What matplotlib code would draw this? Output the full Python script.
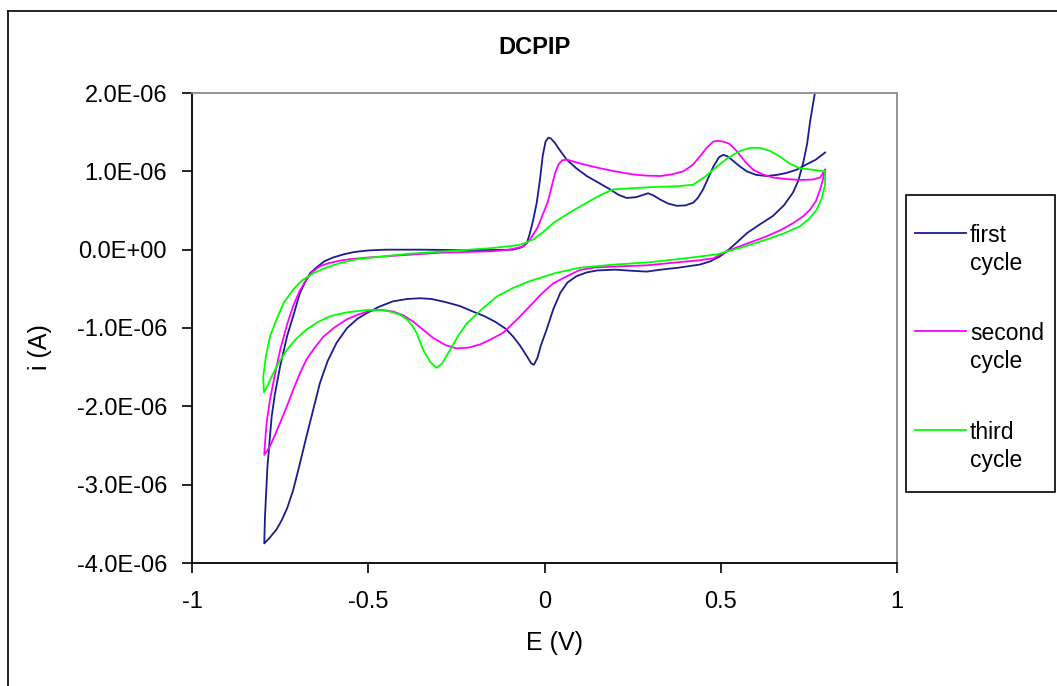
import matplotlib
matplotlib.use("Agg")
import matplotlib.pyplot as plt
from matplotlib.lines import Line2D
from matplotlib.patches import Rectangle
from matplotlib.ticker import FuncFormatter

plt.rcParams['font.family'] = ['Liberation Sans', 'DejaVu Sans']

# ---- data (E in V, i in 1e-6 A) ----
first_E = [0.796, 0.77, 0.744, 0.715, 0.687, 0.66, 0.63, 0.6, 0.574, 0.555, 0.536, 0.52, 0.507,
           0.495, 0.479, 0.465, 0.45, 0.435, 0.422, 0.40, 0.375, 0.35, 0.328, 0.31, 0.294, 0.28,
           0.26, 0.233, 0.21, 0.186, 0.155, 0.12, 0.09, 0.063, 0.045, 0.03, 0.018, 0.011, 0.003,
           -0.005, -0.013, -0.022, -0.032, -0.042, -0.05, -0.065, -0.089, -0.15, -0.25, -0.35,
           -0.45, -0.5, -0.54, -0.57, -0.6, -0.625, -0.645, -0.665, -0.68, -0.695, -0.713, -0.73,
           -0.75, -0.765, -0.774, -0.786, -0.793, -0.795,
           -0.78, -0.76, -0.745, -0.73, -0.713, -0.695, -0.675, -0.655, -0.637, -0.615, -0.59,
           -0.56, -0.53, -0.504, -0.47, -0.43, -0.39, -0.353, -0.32, -0.28, -0.24, -0.203, -0.17,
           -0.14, -0.11, -0.089, -0.07, -0.05, -0.038, -0.03, -0.02, -0.01, 0.006, 0.025, 0.045,
           0.065, 0.09, 0.12, 0.15, 0.2, 0.25, 0.29, 0.33, 0.38, 0.441, 0.47, 0.498, 0.52, 0.545,
           0.574, 0.61, 0.648, 0.68, 0.705, 0.72, 0.734, 0.745, 0.753, 0.767, 0.78]
first_i = [1.24, 1.15, 1.09, 1.02, 0.98, 0.955, 0.94, 0.955, 1.0, 1.06, 1.13, 1.19, 1.21,
           1.18, 1.06, 0.92, 0.77, 0.66, 0.60, 0.565, 0.56, 0.59, 0.64, 0.69, 0.72, 0.70,
           0.67, 0.66, 0.70, 0.77, 0.85, 0.94, 1.04, 1.15, 1.26, 1.36, 1.42, 1.43, 1.38,
           1.20, 0.89, 0.60, 0.38, 0.20, 0.085, 0.03, 0.0, -0.005, -0.005, 0.0,
           0.0, -0.01, -0.03, -0.06, -0.10, -0.15, -0.22, -0.30, -0.42, -0.57, -0.85, -1.10,
           -1.49, -1.85, -2.13, -2.77, -3.41, -3.75,
           -3.68, -3.57, -3.45, -3.30, -3.07, -2.75, -2.38, -2.02, -1.70, -1.42, -1.19,
           -1.00, -0.88, -0.81, -0.73, -0.66, -0.63, -0.62, -0.63, -0.67, -0.72, -0.79, -0.85,
           -0.92, -1.01, -1.11, -1.22, -1.36, -1.45, -1.47, -1.38, -1.22, -1.02, -0.76, -0.55,
           -0.42, -0.34, -0.29, -0.265, -0.255, -0.27, -0.28, -0.255, -0.23, -0.19, -0.15, -0.085, -0.01, 0.09,
           0.21, 0.32, 0.43, 0.57, 0.73, 0.88, 1.11, 1.35, 1.62, 2.0, 2.4]

second_E = [0.796, 0.782, 0.76, 0.725, 0.69, 0.649, 0.62, 0.592, 0.57, 0.545, 0.525, 0.507, 0.49,
            0.479, 0.46, 0.441, 0.42, 0.394, 0.36, 0.328, 0.29, 0.252, 0.2, 0.157, 0.11, 0.063,
            0.05, 0.04, 0.03, 0.02, 0.01, -0.003, -0.02, -0.041, -0.06, -0.1, -0.15, -0.3, -0.4,
            -0.5, -0.55, -0.58, -0.61, -0.637, -0.66, -0.675, -0.695, -0.713, -0.73, -0.75,
            -0.765, -0.779, -0.788, -0.793, -0.795,
            -0.787, -0.779, -0.765, -0.75, -0.73, -0.713, -0.695, -0.675, -0.65, -0.627, -0.595,
            -0.561, -0.53, -0.495, -0.46, -0.429, -0.4, -0.372, -0.345, -0.315, -0.28, -0.249,
            -0.215, -0.183, -0.15, -0.117, -0.08, -0.041, -0.01, 0.025, 0.063, 0.10, 0.138, 0.2,
            0.29, 0.38, 0.44, 0.479, 0.517, 0.57, 0.63, 0.67, 0.706, 0.735, 0.753, 0.77, 0.782,
            0.79, 0.796]
second_i = [1.02, 0.92, 0.895, 0.89, 0.90, 0.92, 0.96, 1.02, 1.12, 1.26, 1.35, 1.38, 1.39,
            1.38, 1.30, 1.19, 1.08, 1.0, 0.96, 0.94, 0.945, 0.96, 1.0, 1.04, 1.09, 1.15,
            1.14, 1.09, 0.98, 0.80, 0.62, 0.47, 0.28, 0.13, 0.04, 0.0, -0.02, -0.04, -0.07,
            -0.10, -0.12, -0.14, -0.17, -0.21, -0.29, -0.38, -0.53, -0.72, -0.95, -1.28,
            -1.60, -1.92, -2.20, -2.47, -2.62,
            -2.57, -2.51, -2.37, -2.21, -1.99, -1.79, -1.59, -1.40, -1.24, -1.11, -0.99,
            -0.89, -0.83, -0.78, -0.77, -0.79, -0.84, -0.92, -1.02, -1.13, -1.22, -1.26,
            -1.25, -1.21, -1.14, -1.06, -0.90, -0.72, -0.57, -0.43, -0.34, -0.26, -0.23, -0.215,
            -0.20, -0.16, -0.135, -0.11, -0.02, 0.07, 0.17, 0.25, 0.34, 0.43, 0.51, 0.62, 0.77,
            0.90, 1.02]

third_E = [0.796, 0.76, 0.725, 0.695, 0.668, 0.64, 0.611, 0.585, 0.555, 0.52, 0.489, 0.455, 0.422,
           0.38, 0.309, 0.25, 0.195, 0.16, 0.12, 0.07, 0.025, -0.005, -0.032, -0.07, -0.15, -0.277,
           -0.38, -0.467, -0.53, -0.58, -0.62, -0.656, -0.69, -0.713, -0.74, -0.76, -0.778, -0.79,
           -0.798, -0.796,
           -0.785, -0.774, -0.755, -0.731, -0.705, -0.675, -0.645, -0.609, -0.56, -0.504, -0.47,
           -0.438, -0.41, -0.39, -0.375, -0.363, -0.344, -0.325, -0.306, -0.29, -0.268, -0.245,
           -0.22, -0.18, -0.136, -0.09, -0.041, 0.03, 0.10, 0.2, 0.30, 0.4, 0.489, 0.56, 0.63,
           0.68, 0.725, 0.75, 0.772, 0.786, 0.796, 0.796]
third_i = [1.0, 1.02, 1.04, 1.10, 1.19, 1.26, 1.30, 1.30, 1.26, 1.17, 1.06, 0.93, 0.83,
           0.81, 0.80, 0.785, 0.77, 0.70, 0.60, 0.47, 0.34, 0.22, 0.13, 0.06, 0.02, -0.02,
           -0.05, -0.09, -0.12, -0.17, -0.23, -0.30, -0.40, -0.51, -0.68, -0.89, -1.10, -1.35,
           -1.62, -1.82,
           -1.73, -1.62, -1.45, -1.28, -1.14, -1.02, -0.93, -0.85, -0.80, -0.77, -0.77,
           -0.79, -0.83, -0.89, -0.97, -1.06, -1.28, -1.43, -1.51, -1.45, -1.28, -1.10,
           -0.94, -0.77, -0.60, -0.49, -0.40, -0.30, -0.23, -0.19, -0.16, -0.11, -0.06, 0.03, 0.13,
           0.21, 0.30, 0.39, 0.51, 0.65, 0.83, 1.0]

labels = [("first", "cycle"), ("second", "cycle"), ("third", "cycle")]
colors = ["#1c1c8c", "#ff00ff", "#00ff00"]
x_ticks = [-1, -0.5, 0, 0.5, 1]
y_ticks = [-4e-6, -3e-6, -2e-6, -1e-6, 0, 1e-6, 2e-6]

W, H = 1057, 686
fig = plt.figure(figsize=(W / 100, H / 100), dpi=100)
ax = fig.add_axes([192 / W, 1 - 563 / H, (897 - 192) / W, (563 - 93) / H])

series = [(first_E, first_i), (second_E, second_i), (third_E, third_i)]
for (E, I), c in zip(series, colors):
    ax.plot(E, [v * 1e-6 for v in I], color=c, lw=1.3, solid_joinstyle='round')

ax.set_xlim(-1, 1)
ax.set_ylim(-4e-6, 2e-6)
ax.set_xticks(x_ticks)
ax.set_yticks(y_ticks)


def xfmt(v, pos):
    if abs(v - round(v)) < 1e-9:
        return "%d" % round(v)
    return ("%g" % v)


def yfmt(v, pos):
    m = v / 1e-6
    if abs(m) < 1e-12:
        return "0.0E+00"
    return "%.1fE-06" % m


ax.xaxis.set_major_formatter(FuncFormatter(xfmt))
ax.yaxis.set_major_formatter(FuncFormatter(yfmt))
ax.tick_params(axis='both', direction='out', length=7, width=1.2, labelsize=17, color='black')
ax.tick_params(axis='y', pad=11)
ax.tick_params(axis='x', pad=13)

for s in ['left', 'bottom']:
    ax.spines[s].set_color('black')
    ax.spines[s].set_linewidth(1.3)
for s in ['top', 'right']:
    ax.spines[s].set_color('#8c8c8c')
    ax.spines[s].set_linewidth(1.3)

fig.text(535 / W, 1 - 47 / H, "DCPIP", ha='center', va='center', fontsize=17, fontweight='bold')
fig.text(40 / W, 1 - 347 / H, "i (A)", ha='center', va='center', fontsize=18, rotation=90)
fig.text(555 / W, 1 - 643 / H, "E (V)", ha='center', va='center', fontsize=18)

# outer chart border (left and top visible)
fig.add_artist(Line2D([8 / W, 8 / W], [0, 1 - 11 / H], transform=fig.transFigure, color='black', lw=1.2))
fig.add_artist(Line2D([8 / W, 1], [1 - 11 / H, 1 - 11 / H], transform=fig.transFigure, color='black', lw=1.2))

# legend box
fig.add_artist(Rectangle((906 / W, 1 - 492 / H), (1055 - 906) / W, (492 - 195) / H,
                         transform=fig.transFigure, fill=False, edgecolor='black', lw=1.2))
entry_y = [233, 331, 430]
for yy, (l1, l2), c in zip(entry_y, labels, colors):
    fig.add_artist(Line2D([915 / W, 966 / W], [1 - yy / H, 1 - yy / H], transform=fig.transFigure,
                          color=c, lw=1.3))
    fig.text(970 / W, 1 - (yy + 9) / H, l1, ha='left', va='baseline', fontsize=16.5)
    fig.text(970 / W, 1 - (yy + 37) / H, l2, ha='left', va='baseline', fontsize=16.5)

fig.savefig("out.png", dpi=100)
